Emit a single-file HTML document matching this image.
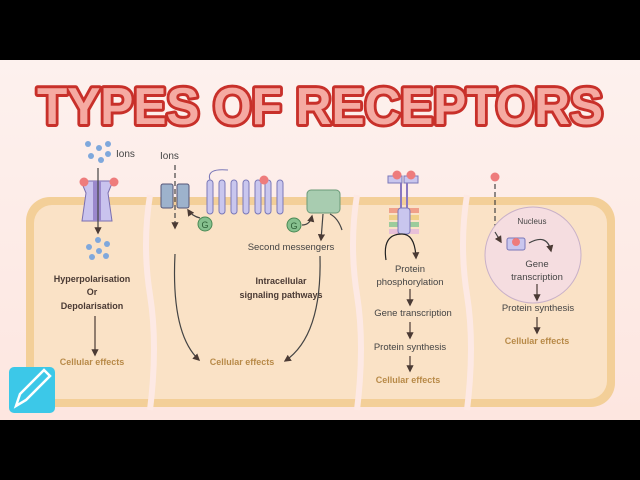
<!DOCTYPE html>
<html><head><meta charset="utf-8"><style>
body{margin:0;width:640px;height:480px;overflow:hidden;background:#000}
svg{display:block}
text{font-family:"Liberation Sans",sans-serif}
</style></head><body>
<svg width="640" height="480" viewBox="0 0 640 480">
<defs>
<marker id="a" viewBox="0 0 10 10" refX="8" refY="5" markerWidth="6" markerHeight="6" orient="auto"><path d="M0,0L10,5L0,10z" fill="#4a3a34"/></marker>
<linearGradient id="bg" x1="0" y1="0" x2="0" y2="1"><stop offset="0" stop-color="#fdf1ee"/><stop offset="1" stop-color="#fde6e0"/></linearGradient>
</defs>
<rect x="0" y="0" width="640" height="60" fill="#000"/>
<rect x="0" y="60" width="640" height="360" fill="url(#bg)"/>
<rect x="0" y="420" width="640" height="60" fill="#000"/>
<!-- title -->
<text x="320" y="124" text-anchor="middle" font-size="52" font-weight="bold" textLength="566" lengthAdjust="spacingAndGlyphs" fill="#f5aaa2" stroke="#c8302a" stroke-width="6" paint-order="stroke" stroke-linejoin="round">TYPES OF RECEPTORS</text>
<!-- cell -->
<rect x="26" y="197" width="589" height="210" rx="24" fill="#f3cf98"/>
<rect x="34" y="205" width="573" height="194" rx="18" fill="#fae2c6"/>
<!-- gaps -->
<path d="M150,195 q-8,50 0,100 q8,50 0,115" stroke="#fde9e4" stroke-width="6" fill="none"/>
<path d="M357,195 q-8,50 0,100 q8,50 0,115" stroke="#fde9e4" stroke-width="6" fill="none"/>
<path d="M467,195 q-8,50 0,100 q8,50 0,115" stroke="#fde9e4" stroke-width="6" fill="none"/>
<!-- receptor 1 -->
<g fill="#7fa8dc"><circle cx="88" cy="144" r="3"/><circle cx="99" cy="148" r="3"/><circle cx="108" cy="144" r="3"/><circle cx="91" cy="156" r="3"/><circle cx="101" cy="160" r="3"/><circle cx="108" cy="154" r="3"/><circle cx="98" cy="240" r="3"/><circle cx="89" cy="247" r="3"/><circle cx="107" cy="244" r="3"/><circle cx="99" cy="251" r="3"/><circle cx="92" cy="257" r="3"/><circle cx="106" cy="256" r="3"/></g>
<text x="116" y="157" font-size="10" fill="#444">Ions</text>
<path d="M81,181 h32 l-5,12 l4,28 h-30 l4,-28z" fill="#c9c3ee" stroke="#7a6fb0"/>
<rect x="93" y="181" width="8" height="40" fill="#9a88cc"/>
<circle cx="84" cy="182" r="4.5" fill="#ee7c7c"/><circle cx="114" cy="182" r="4.5" fill="#ee7c7c"/>
<line x1="98" y1="168" x2="98" y2="233" stroke="#444" stroke-width="1.2" marker-end="url(#a)"/>
<g font-size="9" font-weight="bold" fill="#4a3a34" text-anchor="middle"><text x="92" y="282">Hyperpolarisation</text><text x="92" y="295">Or</text><text x="92" y="309">Depolarisation</text></g>
<line x1="95" y1="316" x2="95" y2="355" stroke="#4a3a34" stroke-width="1.2" marker-end="url(#a)"/>
<text x="92" y="365" font-size="9" font-weight="bold" fill="#b88a48" text-anchor="middle">Cellular effects</text>
<!-- receptor 2 -->
<text x="160" y="159" font-size="10" fill="#444">Ions</text>
<rect x="161" y="184" width="12" height="24" rx="2" fill="#9db2cc" stroke="#557"/>
<rect x="177" y="184" width="12" height="24" rx="2" fill="#9db2cc" stroke="#557"/>
<line x1="175" y1="165" x2="175" y2="228" stroke="#444" stroke-width="1.2" stroke-dasharray="5,3" marker-end="url(#a)"/>
<path d="M200,218 q-8,-2 -12,-8" stroke="#444" fill="none" stroke-width="1.2" marker-end="url(#a)"/>
<circle cx="205" cy="224" r="7" fill="#86c08e" stroke="#4a8a55"/><text x="205" y="228" font-size="9" text-anchor="middle" fill="#2e5e36">G</text>
<g fill="#c9c6ee" stroke="#7a78b8"><rect x="207" y="180" width="6" height="34" rx="3"/><rect x="219" y="180" width="6" height="34" rx="3"/><rect x="231" y="180" width="6" height="34" rx="3"/><rect x="243" y="180" width="6" height="34" rx="3"/><rect x="255" y="180" width="6" height="34" rx="3"/><rect x="265" y="180" width="6" height="34" rx="3"/><rect x="277" y="180" width="6" height="34" rx="3"/></g>
<path d="M210,180 q-4,-12 18,-10" stroke="#7a78b8" fill="none"/>
<circle cx="264" cy="180" r="4.5" fill="#ee7c7c"/>
<circle cx="294" cy="225" r="7" fill="#86c08e" stroke="#4a8a55"/><text x="294" y="229" font-size="9" text-anchor="middle" fill="#2e5e36">G</text>
<path d="M302,225 q8,0 10,-9" stroke="#444" fill="none" stroke-width="1.2" marker-end="url(#a)"/>
<rect x="307" y="190" width="33" height="23" rx="4" fill="#a8ccb0" stroke="#6a9a78"/>
<path d="M330,214 q8,4 12,16" stroke="#444" fill="none" stroke-width="1.2"/>
<line x1="323" y1="214" x2="321" y2="240" stroke="#444" stroke-width="1.2" marker-end="url(#a)"/>
<text x="291" y="250" font-size="9.5" fill="#444" text-anchor="middle">Second messengers</text>
<g font-size="9" font-weight="bold" fill="#4a3a34" text-anchor="middle"><text x="281" y="284">Intracellular</text><text x="281" y="298">signaling pathways</text></g>
<path d="M320,256 q2,80 -35,105" stroke="#444" fill="none" stroke-width="1.2" marker-end="url(#a)"/>
<path d="M175,254 q-4,80 24,106" stroke="#444" fill="none" stroke-width="1.2" marker-end="url(#a)"/>
<text x="242" y="365" font-size="9" font-weight="bold" fill="#b88a48" text-anchor="middle">Cellular effects</text>
<!-- receptor 3 -->
<rect x="388" y="176" width="14" height="7" fill="#c9c6ee" stroke="#7a78b8"/><rect x="404" y="176" width="14" height="7" fill="#c9c6ee" stroke="#7a78b8"/>
<circle cx="397" cy="175" r="4.5" fill="#ee7c7c"/><circle cx="411" cy="175" r="4.5" fill="#ee7c7c"/>
<line x1="401" y1="183" x2="401" y2="208" stroke="#8a78c0" stroke-width="2"/><line x1="407" y1="183" x2="407" y2="208" stroke="#8a78c0" stroke-width="2"/>
<rect x="389" y="208" width="30" height="5" fill="#f0a08a"/><rect x="389" y="215" width="30" height="5" fill="#f0d08a"/><rect x="389" y="222" width="30" height="5" fill="#9ccc9c"/><rect x="389" y="229" width="30" height="5" fill="#e8c0d8"/>
<rect x="398" y="208" width="12" height="26" rx="3" fill="#c9c6ee" stroke="#7a78b8"/>
<path d="M386,260 q-4,-26 16,-26 q13,0 14,24" stroke="#222" fill="none" stroke-width="1.2" marker-end="url(#a)"/>
<g font-size="9.5" fill="#444" text-anchor="middle"><text x="410" y="272">Protein</text><text x="410" y="285">phosphorylation</text><text x="413" y="316">Gene transcription</text><text x="410" y="350">Protein synthesis</text></g>
<line x1="410" y1="289" x2="410" y2="305" stroke="#4a3a34" stroke-width="1.2" marker-end="url(#a)"/>
<line x1="410" y1="322" x2="410" y2="338" stroke="#4a3a34" stroke-width="1.2" marker-end="url(#a)"/>
<line x1="410" y1="356" x2="410" y2="371" stroke="#4a3a34" stroke-width="1.2" marker-end="url(#a)"/>
<text x="408" y="383" font-size="9" font-weight="bold" fill="#b88a48" text-anchor="middle">Cellular effects</text>
<!-- receptor 4 -->
<circle cx="495" cy="177" r="4.5" fill="#ee7c7c"/>
<line x1="495" y1="184" x2="495" y2="232" stroke="#444" stroke-width="1.2" stroke-dasharray="5,3"/>
<circle cx="533" cy="255" r="48" fill="#f5dde0" stroke="#c8b0c8"/>
<path d="M495,232 l6,10" stroke="#444" stroke-width="1.2" marker-end="url(#a)"/>
<text x="532" y="224" font-size="8" fill="#444" text-anchor="middle">Nucleus</text>
<rect x="507" y="238" width="18" height="12" rx="2" fill="#c9c6ee" stroke="#7a78b8"/><circle cx="516" cy="242" r="4" fill="#ee7c7c"/>
<path d="M529,243 q18,-10 22,8" stroke="#444" fill="none" stroke-width="1.2" marker-end="url(#a)"/>
<g font-size="9.5" fill="#444" text-anchor="middle"><text x="537" y="267">Gene</text><text x="537" y="280">transcription</text><text x="538" y="311">Protein synthesis</text></g>
<line x1="537" y1="284" x2="537" y2="300" stroke="#4a3a34" stroke-width="1.2" marker-end="url(#a)"/>
<line x1="537" y1="317" x2="537" y2="333" stroke="#4a3a34" stroke-width="1.2" marker-end="url(#a)"/>
<text x="537" y="344" font-size="9" font-weight="bold" fill="#b88a48" text-anchor="middle">Cellular effects</text>
<!-- icon -->
<rect x="9" y="367" width="46" height="46" rx="5" fill="#3cc8e8"/>
<path d="M16,406 l4,-12 l24,-24 l6,6 l-24,24z" fill="none" stroke="#fff" stroke-width="2.5"/>
</svg>
</body></html>
